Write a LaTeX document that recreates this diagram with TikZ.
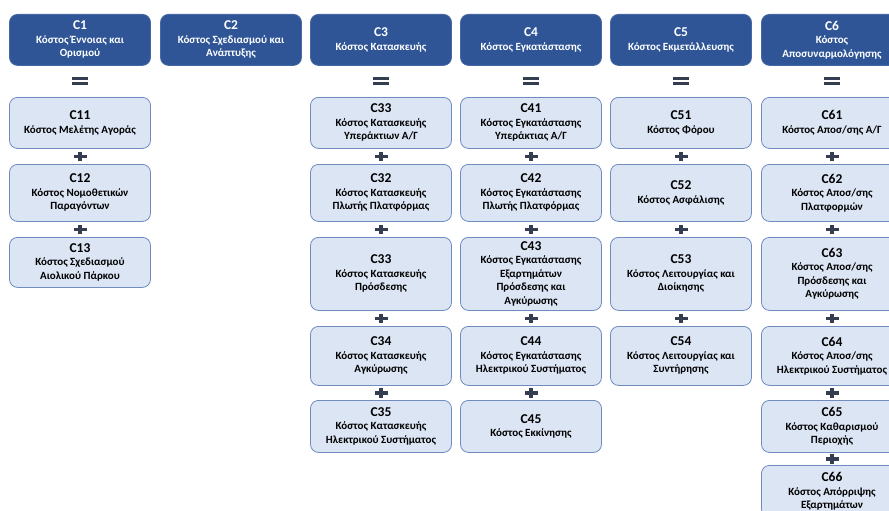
\documentclass[tikz,border=0pt]{standalone}
\usepackage{fontspec}
\setmainfont{Carlito}
\usepackage{tikz}
\usetikzlibrary{calc}

\definecolor{headfill}{RGB}{47,85,151}
\definecolor{headline}{RGB}{70,105,165}
\definecolor{subfill}{RGB}{220,229,244}
\definecolor{subline}{RGB}{110,140,192}
\definecolor{symcol}{RGB}{52,62,80}

\tikzset{
	box/.style={rounded corners=8pt, line width=0.8pt, minimum width=141pt, anchor=north, align=center, inner sep=2pt, font=\bfseries\fontsize{11}{13.5}\selectfont},
	head/.style={box, draw=headline, fill=headfill, text=white, minimum height=51pt},
	sub/.style={box, draw=subline, fill=subfill, text=black},
	rowa/.style={minimum height=51pt},
	rowb/.style={minimum height=57pt},
	rowc/.style={minimum height=73pt},
	rowd/.style={minimum height=59pt},
	rowe/.style={minimum height=52pt},
	eqsign/.pic={
		\fill[symcol] (-8,0.9) rectangle (8,4.1);
		\fill[symcol] (-8,-0.9) rectangle (8,-4.1);
	},
	plussign/.pic={
		\fill[symcol] (-6.5,-1.7) rectangle (6.5,1.7);
		\fill[symcol] (-1.7,-4.8) rectangle (1.7,4.8);
	}
}
\newcommand{\ttl}[1]{{\fontsize{13.5}{15}\selectfont #1}}

\begin{document}
\begin{tikzpicture}[x=1pt, y=-1pt]
	\useasboundingbox (0,0) rectangle (889,511);
	\clip (0,0) rectangle (889,511);

	\node (c1) at (80,14) [head] {\ttl{C1}\\Κόστος Έννοιας και\\Ορισμού};
	\node (c2) at (231,14) [head] {\ttl{C2}\\Κόστος Σχεδιασμού και\\Ανάπτυξης};
	\node (c3) at (381,14) [head] {\ttl{C3}\\Κόστος Κατασκευής};
	\node (c4) at (531,14) [head] {\ttl{C4}\\Κόστος Εγκατάστασης};
	\node (c5) at (681,14) [head] {\ttl{C5}\\Κόστος Εκμετάλλευσης};
	\node (c6) at (832,14) [head] {\ttl{C6}\\Κόστος\\Αποσυναρμολόγησης};

	\node (c11) at (80,97) [sub, rowa] {\ttl{C11}\\Κόστος Μελέτης Αγοράς};
	\node (c12) at (80,164) [sub, rowb] {\ttl{C12}\\Κόστος Νομοθετικών\\Παραγόντων};
	\node (c13) at (80,237) [sub, minimum height=50pt] {\ttl{C13}\\Κόστος Σχεδιασμού\\Αιολικού Πάρκου};

	\node (c31) at (381,97) [sub, rowa] {\ttl{C33}\\Κόστος Κατασκευής\\Υπεράκτιων Α/Γ};
	\node (c32) at (381,164) [sub, rowb] {\ttl{C32}\\Κόστος Κατασκευής\\Πλωτής Πλατφόρμας};
	\node (c33) at (381,237) [sub, rowc] {\ttl{C33}\\Κόστος Κατασκευής\\Πρόσδεσης};
	\node (c34) at (381,326) [sub, rowd] {\ttl{C34}\\Κόστος Κατασκευής\\Αγκύρωσης};
	\node (c35) at (381,400) [sub, rowe] {\ttl{C35}\\Κόστος Κατασκευής\\Ηλεκτρικού Συστήματος};

	\node (c41) at (531,97) [sub, rowa] {\ttl{C41}\\Κόστος Εγκατάστασης\\Υπεράκτιας Α/Γ};
	\node (c42) at (531,164) [sub, rowb] {\ttl{C42}\\Κόστος Εγκατάστασης\\Πλωτής Πλατφόρμας};
	\node (c43) at (531,237) [sub, rowc] {\ttl{C43}\\Κόστος Εγκατάστασης\\Εξαρτημάτων\\Πρόσδεσης και\\Αγκύρωσης};
	\node (c44) at (531,326) [sub, rowd] {\ttl{C44}\\Κόστος Εγκατάστασης\\Ηλεκτρικού Συστήματος};
	\node (c45) at (531,400) [sub, rowe] {\ttl{C45}\\Κόστος Εκκίνησης};

	\node (c51) at (681,97) [sub, rowa] {\ttl{C51}\\Κόστος Φόρου};
	\node (c52) at (681,164) [sub, rowb] {\ttl{C52}\\Κόστος Ασφάλισης};
	\node (c53) at (681,237) [sub, rowc] {\ttl{C53}\\Κόστος Λειτουργίας και\\Διοίκησης};
	\node (c54) at (681,326) [sub, rowd] {\ttl{C54}\\Κόστος Λειτουργίας και\\Συντήρησης};

	\node (c61) at (832,97) [sub, rowa] {\ttl{C61}\\Κόστος Αποσ/σης Α/Γ};
	\node (c62) at (832,164) [sub, rowb] {\ttl{C62}\\Κόστος Αποσ/σης\\Πλατφορμών};
	\node (c63) at (832,237) [sub, rowc] {\ttl{C63}\\Κόστος Αποσ/σης\\Πρόσδεσης και\\Αγκύρωσης};
	\node (c64) at (832,326) [sub, rowd] {\ttl{C64}\\Κόστος Αποσ/σης\\Ηλεκτρικού Συστήματος};
	\node (c65) at (832,400) [sub, rowe] {\ttl{C65}\\Κόστος Καθαρισμού\\Περιοχής};
	\node (c66) at (832,465) [sub, rowe] {\ttl{C66}\\Κόστος Απόρριψης\\Εξαρτημάτων};

	\foreach \a/\b in {c1/c11, c3/c31, c4/c41, c5/c51, c6/c61}
		\path ($(\a.south)!0.5!(\b.north)$) pic {eqsign};
	\foreach \a/\b in {c11/c12, c12/c13, c31/c32, c32/c33, c33/c34, c34/c35, c41/c42, c42/c43, c43/c44, c44/c45, c51/c52, c52/c53, c53/c54, c61/c62, c62/c63, c63/c64, c64/c65, c65/c66}
		\path ($(\a.south)!0.5!(\b.north)$) pic {plussign};
\end{tikzpicture}
\end{document}
